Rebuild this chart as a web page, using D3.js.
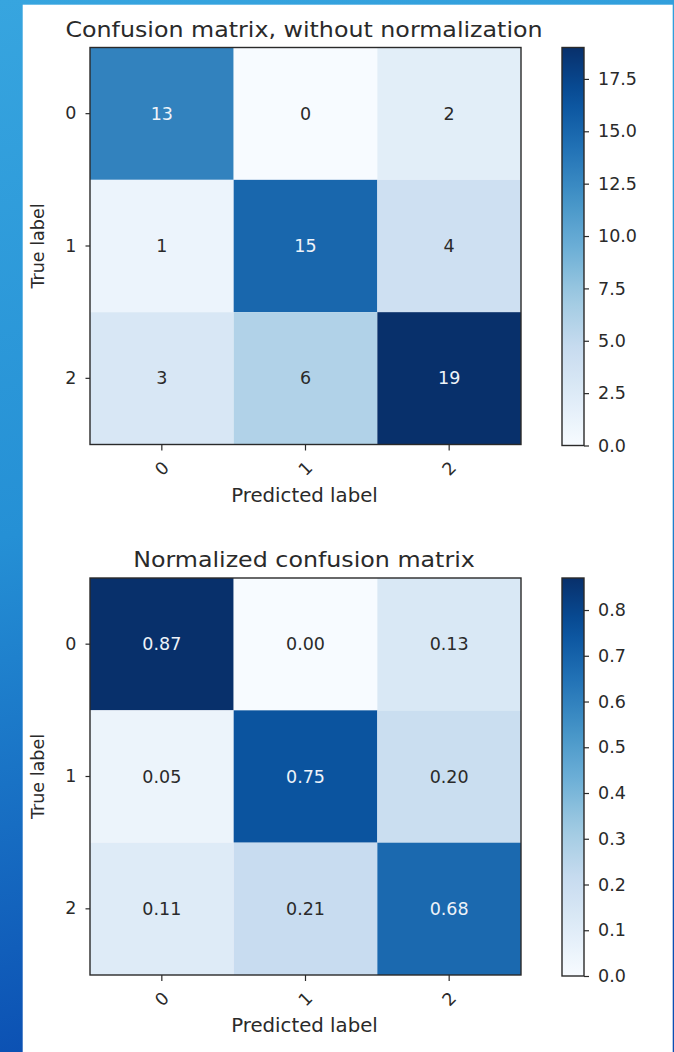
<!DOCTYPE html>
<html>
<head>
<meta charset="utf-8">
<script src="https://cdn.jsdelivr.net/npm/d3@7"></script>
<style>
  body { margin: 0; background: #fff; }
  svg { display: block; }
  text { font-family: "DejaVu Sans", sans-serif; }
</style>
</head>
<body>
<svg id="chart" width="674" height="1052"></svg>
<script>
// Class labels and matrices
const classes = ["0", "1", "2"];
const counts = [
  [13, 0, 2],
  [1, 15, 4],
  [3, 6, 19]
];
const normalized = [
  [0.87, 0.00, 0.13],
  [0.05, 0.75, 0.20],
  [0.11, 0.21, 0.68]
];
const countTicks = [0, 2.5, 5, 7.5, 10, 12.5, 15, 17.5];
const normTicks = [0, 0.1, 0.2, 0.3, 0.4, 0.5, 0.6, 0.7, 0.8];
const titles = ["Confusion matrix, without normalization", "Normalized confusion matrix"];
const xTitle = "Predicted label";
const yTitle = "True label";

// Sequential "Blues" colour ramp
const blues = ["#f7fbff", "#deebf7", "#c6dbef", "#9ecae1", "#6baed6", "#4292c6", "#2171b5", "#08519c", "#08306b"];

const svg = d3.select("#chart");
const W = 674, H = 1052;
const ink = "#2a2a2a";

// Desktop-style backdrop behind the white figure
const defs = svg.append("defs");
const bg = defs.append("linearGradient").attr("id", "bg")
  .attr("x1", 0).attr("y1", 0).attr("x2", 0.15).attr("y2", 1);
bg.append("stop").attr("offset", 0).attr("stop-color", "#37a5df");
bg.append("stop").attr("offset", 0.5).attr("stop-color", "#2590d5");
bg.append("stop").attr("offset", 1).attr("stop-color", "#0b4fb2");
svg.append("rect").attr("width", W).attr("height", H).attr("fill", "url(#bg)");
svg.append("rect").attr("x", 22.7).attr("y", 4.7).attr("width", 650).attr("height", H - 4.7).attr("fill", "#ffffff");

const layout = { left: 90, right: 521, h: 397, cbX: 562, cbW: 22, cbH: 398 };

function drawPanel(opts) {
  const { matrix, fmt, ticks, title, top, id } = opts;
  const g = svg.append("g");
  const maxV = d3.max(matrix.flat());
  const minV = d3.min(matrix.flat());
  const color = d3.scaleLinear()
    .domain(blues.map((_, i) => minV + (maxV - minV) * i / (blues.length - 1)))
    .range(blues);

  const x = d3.scaleBand().domain(classes).range([layout.left, layout.right]);
  const y = d3.scaleBand().domain(classes).range([top, top + layout.h]);

  // cells
  const cells = [];
  matrix.forEach((row, i) => row.forEach((v, j) => cells.push({ i, j, v })));
  g.selectAll("rect.cell").data(cells).join("rect")
    .attr("class", "cell")
    .attr("x", d => x(classes[d.j]))
    .attr("y", d => y(classes[d.i]))
    .attr("width", x.bandwidth())
    .attr("height", y.bandwidth())
    .attr("fill", d => color(d.v));

  const thresh = maxV / 2;
  g.selectAll("text.val").data(cells).join("text")
    .attr("class", "val")
    .attr("x", d => x(classes[d.j]) + x.bandwidth() / 2)
    .attr("y", d => y(classes[d.i]) + y.bandwidth() / 2)
    .attr("text-anchor", "middle")
    .attr("dominant-baseline", "central")
    .attr("font-size", 17.5)
    .attr("fill", d => d.v > thresh ? "#eef3f9" : ink)
    .text(d => fmt(d.v));

  // frame
  g.append("rect")
    .attr("x", layout.left).attr("y", top)
    .attr("width", layout.right - layout.left).attr("height", layout.h)
    .attr("fill", "none").attr("stroke", ink).attr("stroke-width", 1.4);

  // y axis
  const yAxis = g.append("g").attr("transform", `translate(${layout.left},0)`)
    .call(d3.axisLeft(y).tickSize(4.5).tickPadding(9));
  yAxis.select(".domain").remove();
  yAxis.selectAll("line").attr("stroke", ink).attr("stroke-width", 1.2);
  yAxis.selectAll("text").attr("font-size", 17.5).attr("fill", ink).attr("font-family", "DejaVu Sans");

  // x axis with rotated labels
  const xAxis = g.append("g").attr("transform", `translate(0,${top + layout.h})`)
    .call(d3.axisBottom(x).tickSize(6).tickPadding(0));
  xAxis.select(".domain").remove();
  xAxis.selectAll("line").attr("stroke", ink).attr("stroke-width", 1.2);
  xAxis.selectAll("text")
    .attr("font-size", 17.5).attr("fill", ink).attr("font-family", "DejaVu Sans")
    .attr("y", 0).attr("dy", null)
    .attr("dominant-baseline", "central")
    .attr("transform", "translate(0,24) rotate(-45)");

  // axis titles
  g.append("text")
    .attr("transform", `translate(${(layout.left + layout.right) / 2 - 1},${top + layout.h + 57}) scale(1.05,1)`)
    .attr("text-anchor", "middle")
    .attr("font-size", 18.8).attr("fill", ink)
    .text(xTitle);
  g.append("text")
    .attr("transform", `translate(44,${top + layout.h / 2}) rotate(-90)`)
    .attr("text-anchor", "middle")
    .attr("font-size", 17.5).attr("fill", ink)
    .text(yTitle);

  // title
  g.append("text")
    .attr("transform", `translate(${(layout.left + layout.right) / 2 - 1.5},${top - 10.8}) scale(1.105,1)`)
    .attr("text-anchor", "middle")
    .attr("font-size", 21.5).attr("fill", ink)
    .text(title);

  // colorbar
  const cbScale = d3.scaleLinear().domain([minV, maxV]).range([top + layout.cbH, top]);
  const grad = defs.append("linearGradient").attr("id", "cb" + id)
    .attr("x1", 0).attr("y1", 1).attr("x2", 0).attr("y2", 0);
  d3.range(0, 1.0001, 0.05).forEach(t => {
    grad.append("stop").attr("offset", t).attr("stop-color", color(minV + t * (maxV - minV)));
  });
  g.append("rect")
    .attr("x", layout.cbX).attr("y", top)
    .attr("width", layout.cbW).attr("height", layout.cbH)
    .attr("fill", `url(#cb${id})`)
    .attr("stroke", ink).attr("stroke-width", 1.4);
  const cbAxis = g.append("g").attr("transform", `translate(${layout.cbX + layout.cbW},0)`)
    .call(d3.axisRight(cbScale).tickValues(ticks).tickFormat(d3.format(".1f")).tickSize(5).tickPadding(9));
  cbAxis.select(".domain").remove();
  cbAxis.selectAll("line").attr("stroke", ink).attr("stroke-width", 1.2);
  cbAxis.selectAll("text").attr("font-size", 17.5).attr("fill", ink).attr("font-family", "DejaVu Sans");
}

drawPanel({ matrix: counts, fmt: d3.format("d"), ticks: countTicks, title: titles[0], top: 47.5, id: "a" });
drawPanel({ matrix: normalized, fmt: d3.format(".2f"), ticks: normTicks, title: titles[1], top: 578, id: "b" });
</script>
</body>
</html>
